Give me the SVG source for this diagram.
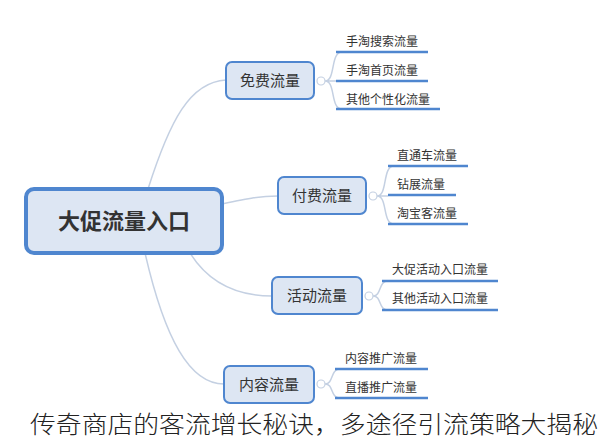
<svg xmlns="http://www.w3.org/2000/svg" width="600" height="445" viewBox="0 0 600 445">
<style>
.bg{fill:#fff}
.root{fill:#dde6f3;stroke:#4f86cf;stroke-width:4}
.node{fill:#dde6f3;stroke:#4f86cf;stroke-width:2}
.rt{font-family:"Noto Sans CJK SC",sans-serif;font-size:22px;font-weight:bold;fill:#333;text-anchor:middle}
.nt{font-family:"Noto Sans CJK SC",sans-serif;font-size:15px;fill:#333;text-anchor:middle}
.lt{font-family:"Noto Sans CJK SC",sans-serif;font-size:12px;fill:#333}
.ul{stroke:#4f86cf;stroke-width:2.5}
.c{fill:none;stroke:#c4d0e2;stroke-width:1.5}
.k{fill:#fff;stroke:#c4d0e2;stroke-width:1.2}
.cap{font-family:"Noto Sans CJK SC",sans-serif;font-size:24px;font-weight:300;fill:#222}
</style>
<rect class="bg" width="600" height="445"/>
<g id="connectors">
<path class="c" d="M148,189 C170,120 190,82 226,80"/>
<path class="c" d="M222,204 C250,198 260,196 278,196"/>
<path class="c" d="M190,253 C210,285 240,296 272,296"/>
<path class="c" d="M145,253 C165,340 190,384 224,384"/>
<circle class="k" cx="321" cy="81" r="4"/>
<path class="c" d="M325,81 C336,81 330,52 342,52 M325,81 H336 M325,81 C336,81 330,109 342,109"/>
<circle class="k" cx="373" cy="196" r="4"/>
<path class="c" d="M377,196 C388,196 382,166 394,166 M377,196 H388 M377,196 C388,196 382,224 394,224"/>
<circle class="k" cx="369" cy="296" r="4"/>
<path class="c" d="M373,296 C382,296 378,281 388,281 M373,296 C382,296 378,310 388,310"/>
<circle class="k" cx="321" cy="384" r="4"/>
<path class="c" d="M325,384 C334,384 330,369 340,369 M325,384 C334,384 330,398 340,398"/>
</g>
<g id="root"><rect class="root" x="26" y="189" width="196" height="64" rx="8"/><text class="rt" x="124" y="229">大促流量入口</text></g>
<g id="n1"><rect class="node" x="226" y="62" width="88" height="37" rx="6"/><text class="nt" x="270" y="86">免费流量</text></g>
<g id="n2"><rect class="node" x="278" y="177" width="88" height="37" rx="6"/><text class="nt" x="322" y="201">付费流量</text></g>
<g id="n3"><rect class="node" x="272" y="277" width="90" height="37" rx="6"/><text class="nt" x="317" y="301">活动流量</text></g>
<g id="n4"><rect class="node" x="224" y="366" width="90" height="37" rx="6"/><text class="nt" x="269" y="390">内容流量</text></g>
<g id="l1"><text class="lt" x="346" y="46">手淘搜索流量</text><line class="ul" x1="336" y1="52" x2="428" y2="52"/></g>
<g id="l2"><text class="lt" x="346" y="75">手淘首页流量</text><line class="ul" x1="336" y1="81" x2="428" y2="81"/></g>
<g id="l3"><text class="lt" x="346" y="104">其他个性化流量</text><line class="ul" x1="336" y1="109" x2="440" y2="109"/></g>
<g id="l4"><text class="lt" x="397" y="160">直通车流量</text><line class="ul" x1="388" y1="166" x2="468" y2="166"/></g>
<g id="l5"><text class="lt" x="397" y="189">钻展流量</text><line class="ul" x1="388" y1="195" x2="456" y2="195"/></g>
<g id="l6"><text class="lt" x="397" y="218">淘宝客流量</text><line class="ul" x1="388" y1="224" x2="468" y2="224"/></g>
<g id="l7"><text class="lt" x="392" y="274">大促活动入口流量</text><line class="ul" x1="382" y1="281" x2="498" y2="281"/></g>
<g id="l8"><text class="lt" x="392" y="303">其他活动入口流量</text><line class="ul" x1="382" y1="310" x2="498" y2="310"/></g>
<g id="l9"><text class="lt" x="345" y="363">内容推广流量</text><line class="ul" x1="335" y1="369" x2="428" y2="369"/></g>
<g id="l10"><text class="lt" x="345" y="392">直播推广流量</text><line class="ul" x1="335" y1="398" x2="428" y2="398"/></g>
<text class="cap" x="30" y="433" textLength="568" lengthAdjust="spacingAndGlyphs">传奇商店的客流增长秘诀，多途径引流策略大揭秘</text>
</svg>
